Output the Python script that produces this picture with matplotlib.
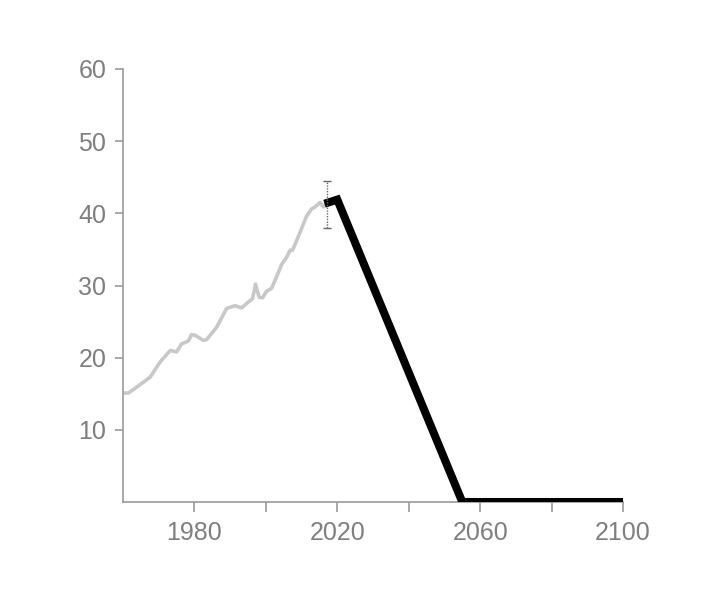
import matplotlib
matplotlib.use("Agg")
import matplotlib.pyplot as plt

hist_years = [1960, 1961.5, 1963.8, 1967.6, 1970.4, 1973.2, 1975, 1976.4, 1978.3, 1979.2,
              1980.2, 1982.5, 1983.4, 1986.2, 1989, 1990, 1991.4, 1993.2, 1994.6, 1996.3,
              1997.1, 1998.1, 1999.1, 2000.2, 2001.6, 2003, 2004.4, 2005.8, 2006.8, 2007.5,
              2009.6, 2011.4, 2012.8, 2013.8, 2015.2, 2016.1, 2017.2]
hist_values = [15.1, 15.1, 15.9, 17.3, 19.4, 21.0, 20.8, 21.9, 22.3, 23.2,
               23.1, 22.4, 22.5, 24.2, 26.8, 27.0, 27.2, 26.9, 27.5, 28.2,
               30.2, 28.4, 28.3, 29.2, 29.6, 31.2, 32.9, 33.9, 34.9, 34.9,
               37.4, 39.6, 40.6, 40.9, 41.5, 40.9, 41.5]

path_years = [2017.5, 2020, 2055, 2100]
path_values = [41.5, 41.9, 0, 0]

err_year = 2017
err_center = 41.25
err_low = 38.0
err_high = 44.5

x_ticks = [1980, 2000, 2020, 2040, 2060, 2080, 2100]
x_labels = ["1980", "", "2020", "", "2060", "", "2100"]
y_ticks = [10, 20, 30, 40, 50, 60]

plt.rcParams['font.family'] = ['Liberation Sans', 'DejaVu Sans']

fig = plt.figure(figsize=(7.25, 6.0), dpi=100)
ax = fig.add_axes([123/725, 1-502/600, 500/725, 433/600])

ax.plot(hist_years, hist_values, color='#c8c8c8', lw=2.6, solid_joinstyle='round', zorder=2)
ax.plot(path_years, path_values, color='black', lw=5.8, solid_joinstyle='miter', zorder=3)
ax.errorbar([err_year], [err_center],
            yerr=[[err_center - err_low], [err_high - err_center]],
            fmt='none', ecolor='#666666', elinewidth=1.0, capsize=3, capthick=1.0,
            zorder=4)
for coll in ax.collections:
    coll.set_linestyle((0, (1, 1)))

ax.set_xlim(1960, 2100)
ax.set_ylim(0, 60)
ax.set_xticks(x_ticks)
ax.set_xticklabels(x_labels)
ax.set_yticks(y_ticks)

for s in ['top', 'right']:
    ax.spines[s].set_visible(False)
for s in ['left', 'bottom']:
    ax.spines[s].set_color('#9a9a9a')
    ax.spines[s].set_linewidth(1.2)

ax.tick_params(axis='both', colors='#9a9a9a', labelcolor='#7f7f7f', labelsize=18, width=1.2)
ax.tick_params(axis='y', length=6, pad=6)
ax.tick_params(axis='x', length=7, pad=7)

fig.savefig('out.png', dpi=100, facecolor='white')
